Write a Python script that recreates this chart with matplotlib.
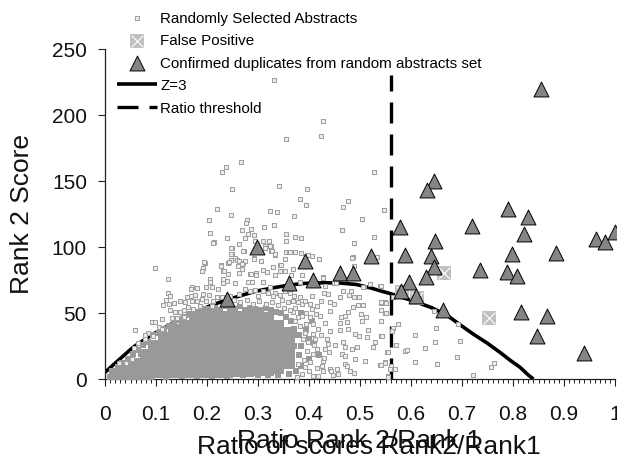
import matplotlib
matplotlib.use("Agg")
import matplotlib.pyplot as plt
from matplotlib.legend_handler import HandlerTuple

plt.rcParams['font.family'] = ['Liberation Sans', 'DejaVu Sans']

# Confirmed duplicates (triangles)
dup_x = [.855,.646,.631,.579,.790,.830,.822,.720,.647,.588,.640,.646,.798,.885,.629,.735,.788,.807,.596,.581,.610,.663,.815,.866,.847,.939,.963,.981,1.0,
         .299,.392,.239,.360,.407,.461,.486,.522]
dup_y = [219.4,150,143,115,128.3,122.3,110,115.7,104.6,93.8,93,84.5,94.6,95,77.4,82.7,81.2,78,73,66.3,62.5,52,50.4,48,32.8,19.7,106,103.4,111,
         100,89.5,60.5,72.4,74.6,80.2,80,92.8]

# False positives
fp_x = [.665,.752,.612,.582]
fp_y = [80,46,61,66]

# Z=3 curve
z_x = [0,.02,.055,.09,.127,.15,.18,.21,.24,.27,.297,.33,.36,.39,.428,.46,.493,.52,.539,.56,.58,.605,.64,.67,.70,.722,.75,.775,.795,.814,.83,.84]
z_y = [5,12,24,33,41,46,51,56,60,63.5,66.5,69,71,72.3,72.8,72.6,71.5,69,66.8,64.5,62,59,54,48.4,40,34,27,20,14,8.8,3,0]

# Ratio threshold
thr_x = [.56,.56]
thr_y = [0,230]

# Randomly selected abstracts: individually read points
rand_pts = [
(.332,226.4),(.427,195),(.424,184),(.354,181.8),(.266,164.4),(.237,160.6),(.229,156.8),(.527,156.8),(.341,146),(.249,144),(.397,144),(.382,136.4),(.394,131.4),
(.477,134.9),(.466,129.9),(.548,127.8),(.220,128.4),(.324,127),(.337,126.3),(.247,124),(.371,123.3),(.203,120.3),(.279,120),(.276,118),(.504,121),(.331,116.7),
(.312,115),(.268,113),(.286,113.7),(.465,113),(.205,110.7),(.281,110),(.292,108.7),(.354,110),(.373,107.6),(.384,106.4),(.527,107.6),(.239,106.4),(.275,106.4),
(.213,103.4),(.354,104.4),(.262,101.9),(.294,104.4),(.310,104.4),(.321,104.4),(.314,100.9),(.325,100.6),(.325,97.1),(.333,93.8),(.249,99.1),(.249,94.6),(.272,97.1),
(.354,96.1),(.360,96.1),(.255,91.3),(.293,91.3),(.314,98.9),(.464,112.8),(.488,102.7),(.384,95.4),(.405,92.8),(.420,90.8),(.486,92.1),(.533,92.6),(.399,93.9),(.363,96.1),
(.489,85.8),(.428,76.9),(.449,72.6),(.519,71.9),(.539,70.6),(.508,69.4),(.343,86),(.372,95.8),(.327,97),(.334,94.9),(.271,97),(.248,94.6),(.248,98.9),(.212,103),
(.324,100.7),(.271,88),(.258,90),(.242,87.5),(.227,86),(.196,88),(.232,81.5),(.262,80),(.284,79.4),(.296,80),(.310,82.8),(.317,81),(.330,84.5),(.346,86.5),(.365,79),(.386,78.7),
(.248,90.3),(.263,89.5),(.274,89.5),(.292,90.8),(.306,89.5),(.268,87),(.261,85.7),(.268,83.2),(.329,84.5),(.343,82),(.353,82),(.353,90.8),(.333,79),(.286,79.4),(.297,79),
(.281,73.1),(.289,73.1),(.309,73.1),(.255,72.4),(.323,69.8),(.369,83.2),(.485,91.5),(.427,76.4),(.453,72.4),(.431,70.6),(.506,69.3),(.382,73.1),(.274,68.1),(.284,66.8),(.309,66.8),
(.294,67.3),(.320,64.8),(.333,64.8),(.343,63.8),(.353,66.3),(.363,64.8),(.330,63),(.370,63),(.382,61.8),(.405,63),(.430,64.8),(.438,64.3),(.467,66.3),(.482,66.8),(.478,63.8),
(.488,62.3),(.498,62.3),(.461,61.8),(.549,58),(.541,57.5),(.506,56.2),(.497,56),(.487,54.7),(.477,50.9),(.470,47.9),(.463,47.1),(.449,56.7),(.441,58),(.423,59.2),(.415,55.5),
(.405,53),(.414,49.2),(.421,47.9),(.441,51.2),(.501,49.2),(.511,47.1),(.504,43.6),(.549,49.7),(.461,42.1),(.474,42.9),(.441,36.1),(.461,37.1),(.516,37.1),(.490,34),(.499,32.8),
(.514,32),(.542,32.8),(.529,27.7),(.526,24),(.477,37.8),(.552,20.2),(.467,27.7),(.470,24),(.451,26),(.436,30.3),(.438,26.5),(.431,22.7),(.440,20.2),(.464,18.9),(.490,15.1),
(.510,13.4),(.484,22.7),(.495,24),(.470,17.6),(.428,13.9),(.425,10.1),(.441,7.6),(.454,7.6),(.470,11.3),(.475,10.1),(.480,5.8),(.488,4.3),(.539,10.8),(.549,12.6),(.457,3.8),
(.444,5.8),(.418,2.5),(.386,3.8),(.376,1.3),(.408,2.5),(.448,3.3),(.555,2),(.428,6.3),(.402,12.6),(.379,11.3),(.392,8.8),(.408,18.9),(.415,22.7),(.397,21.4),(.408,34),(.423,33.5),
(.395,41.6),(.408,41.6),(.402,46.6),(.379,46.6),(.386,47.9),(.369,50.4),(.386,56.7),(.379,58),(.369,59.2),(.363,52.2),(.359,58),(.392,58.7),(.402,56.7),
(.547,127.8),(.541,70.6),(.542,58),(.551,57.2),(.542,52.5),(.551,49.9),(.541,44.1),(.574,41.6),(.564,38.3),(.562,36.6),(.544,32.8),(.608,33.3),(.649,38.8),(.693,41.9),(.646,51.2),
(.570,25.7),(.588,21.4),(.593,22.2),(.555,20.7),(.627,23.5),(.647,27.7),(.696,28.5),(.691,16.4),(.608,12.6),(.651,11.3),(.549,11.9),(.541,10.9),(.561,10.1),(.568,7.6),(.559,7.6),
(.721,2.8),(.757,9.1),(.763,12.4),(.555,1.3),(.565,61.8),
(.098,83.7),(.123,75.7),(.195,88.3),(.193,84),(.190,81.5),(.227,85.8),(.243,88.3),(.233,81.5),(.242,79.5),(.206,75.7),(.206,73.7),(.232,75.7),(.239,74.4),(.231,72.4),(.199,69.4),
(.209,69.4),(.180,68.9),(.171,69.9),(.169,68.1),(.124,64.8),(.127,62.6),(.119,60),(.114,56),(.125,56.8),(.135,57.5),(.148,59.3),(.160,62.3),(.169,63.1),(.176,63.8),(.193,64.3),
(.203,63.6),(.222,68.1),(.219,61.8),(.170,59.3),(.180,59.3),(.190,60.5),(.157,58),(.128,52.5),(.137,51),(.147,50.5),(.154,52.5),(.163,54.2),(.173,53),(.186,55.5),(.111,45.4),
(.092,43.4),(.098,43.4),(.059,37.1),(.105,39.1),(.085,34.8),(.078,33.3),(.065,27.3),(.078,30.3),(.095,32.3),(.111,37.8),(.056,23.2),(.131,45.9),(.141,45.9),(.154,46.7),
(.027,11.9),(.042,12.1),(.052,15.2),(.209,55.5),(.199,59.3),(.229,61.8),(.212,59.3),
(.240,58),(.252,60),(.265,58),(.278,60),(.290,57),(.302,59),(.315,57),(.328,58),(.340,56),(.350,54),(.245,63),(.262,64),(.300,63),(.348,60),
(.372,44),(.382,40),(.392,35),(.398,28),(.388,30),(.410,26),(.418,38),(.432,42),(.395,50),(.372,54),(.412,30),(.43,16),(.415,8),(.40,6),(.39,14),
]

# Randomly selected abstracts: the solid overlapping core, read as one estimated point per patch
core_pts = [
(.02,4),(.04,4),(.04,10),(.06,4),(.06,11),(.08,4),(.08,11),(.08,18),
(.10,5),(.10,12),(.10,19),(.10,25),(.12,5),(.12,12),(.12,19),(.12,26),(.12,31),
(.14,5),(.14,12),(.14,19),(.14,26),(.14,33),(.14,37),(.16,5),(.16,12),(.16,19),(.16,26),(.16,33),(.16,40),
(.18,5),(.18,12),(.18,19),(.18,26),(.18,33),(.18,40),(.18,44),(.20,5),(.20,12),(.20,19),(.20,26),(.20,33),(.20,40),(.20,47),
(.22,5),(.22,12),(.22,19),(.22,26),(.22,33),(.22,40),(.22,47),(.24,5),(.24,12),(.24,19),(.24,26),(.24,33),(.24,40),(.24,47),
(.26,6),(.26,12),(.26,19),(.26,26),(.26,33),(.26,40),(.26,47),(.28,6),(.28,12),(.28,19),(.28,26),(.28,33),(.28,40),(.28,47),
(.30,7),(.30,13),(.30,19),(.30,26),(.30,33),(.30,40),(.30,46),(.32,7),(.32,13),(.32,19),(.32,26),(.32,33),(.32,40),(.32,46),
(.34,8),(.34,14),(.34,20),(.34,26),(.34,33),(.34,40),(.36,12),(.36,19),(.36,27),(.36,35),
]
edge_pts = [
(.015,5),(.025,9),(.03,7),(.035,12),(.045,15),(.05,13),(.055,19),(.065,22),(.07,19),(.075,26),(.085,28),(.09,25),(.095,33),(.105,35),(.11,32),(.115,38),
(.125,40),(.13,37),(.135,43),(.145,45),(.15,42),(.155,47),(.165,49),(.17,47),(.175,50),(.185,51),(.19,49),(.195,53),(.205,53),(.215,54),(.225,52),(.235,55),
(.245,54),(.255,53),(.265,55),(.275,52),(.285,54),(.295,53),(.305,52),(.315,54),(.325,52),(.335,51),(.345,50),(.355,47),(.365,44),(.37,38),(.38,33),(.385,25),
(.38,18),(.385,10),(.375,6),(.36,4),(.34,3),(.32,3),(.30,3),(.27,3),(.24,2),(.21,2),(.18,2),(.15,2),(.12,1.5),(.09,1.5),(.06,1),(.04,1),(.01,1.5),
(.40,30),(.395,37),(.41,27),(.40,15),(.42,18),(.405,44),(.385,50),(.37,25),(.365,12),(.37,33),
]
rand_x = [p[0] for p in rand_pts]
rand_y = [p[1] for p in rand_pts]
core_x = [p[0] for p in core_pts]
core_y = [p[1] for p in core_pts]
edge_x = [p[0] for p in edge_pts]
edge_y = [p[1] for p in edge_pts]

legend_labels = ['Randomly Selected Abstracts', 'False Positive',
                 'Confirmed duplicates from random abstracts set', 'Z=3', 'Ratio threshold']
xticks = [0,.1,.2,.3,.4,.5,.6,.7,.8,.9,1]
xticklabels = ['0','0.1','0.2','0.3','0.4','0.5','0.6','0.7','0.8','0.9','1']
yticks = [0,50,100,150,200,250]

W, H = 617, 460
fig = plt.figure(figsize=(W/100, H/100), dpi=100)
ax = fig.add_axes([105/W, (H-380)/H, 510/W, 330.5/H])
ax.set_xlim(0, 1)
ax.set_ylim(0, 250)

zline, = ax.plot(z_x, z_y, color='black', lw=2.6, zorder=2, solid_capstyle='butt')
tline, = ax.plot(thr_x, thr_y, color='black', lw=2.4, zorder=2, dashes=(6.3, 3.3), dash_capstyle='butt')
ax.scatter(core_x, core_y, marker='s', s=74, color='#999999', linewidths=0, zorder=3)
ax.scatter(edge_x, edge_y, marker='s', s=22, color='#999999', linewidths=0, zorder=3)
rnd = ax.scatter(rand_x, rand_y, marker='s', s=9, facecolor='#efefef', edgecolor='#a0a0a0', linewidths=0.75, zorder=3.2, clip_on=False)
fp1 = ax.scatter(fp_x, fp_y, marker='s', s=110, color='#c0c0c0', linewidths=0, zorder=4)
fp2 = ax.scatter(fp_x, fp_y, marker='x', s=70, color='white', linewidths=0.8, zorder=4.1)
tri = ax.scatter(dup_x, dup_y, marker='^', s=115, facecolor='#858585', edgecolor='black', linewidths=0.7, zorder=5, clip_on=False)

for s in ('top', 'right'):
    ax.spines[s].set_visible(False)
for s in ('left', 'bottom'):
    ax.spines[s].set_color('#222222')
    ax.spines[s].set_linewidth(0.9)

ax.set_xticks(xticks)
ax.set_xticklabels(xticklabels)
ax.set_xticks([i/100 for i in range(101)], minor=True)
ax.set_yticks(yticks)
ax.tick_params(axis='x', which='major', length=5, width=0.8, pad=13, labelsize=15, color='#222222', labelcolor='#111111')
ax.tick_params(axis='x', which='minor', length=3, width=0.7, color='#222222')
ax.tick_params(axis='y', which='major', length=5, width=0.8, pad=8, labelsize=15, color='#222222', labelcolor='#111111')

fig.text(359/W, 1-441/H, 'Ratio Rank 2/Rank 1', ha='center', va='center', fontsize=19, color='#111111')
fig.text(369/W, 1-447/H, 'Ratio of scores Rank2/Rank1', ha='center', va='center', fontsize=19, color='#111111')
fig.text(22/W, 1-214/H, 'Rank 2 Score', rotation=90, ha='center', va='center', fontsize=19, color='#111111')

handles = [rnd, (fp1, fp2), tri, zline, tline]
fig.legend(handles, legend_labels, loc='upper left', bbox_to_anchor=(117/W, 1-12/H), borderaxespad=0, borderpad=0,
           frameon=False, fontsize=10.9, handlelength=2.65, handletextpad=0.2, labelspacing=0.56,
           handler_map={tuple: HandlerTuple(ndivide=1, pad=0)}, scatterpoints=1)

fig.savefig('out.png', dpi=100)
